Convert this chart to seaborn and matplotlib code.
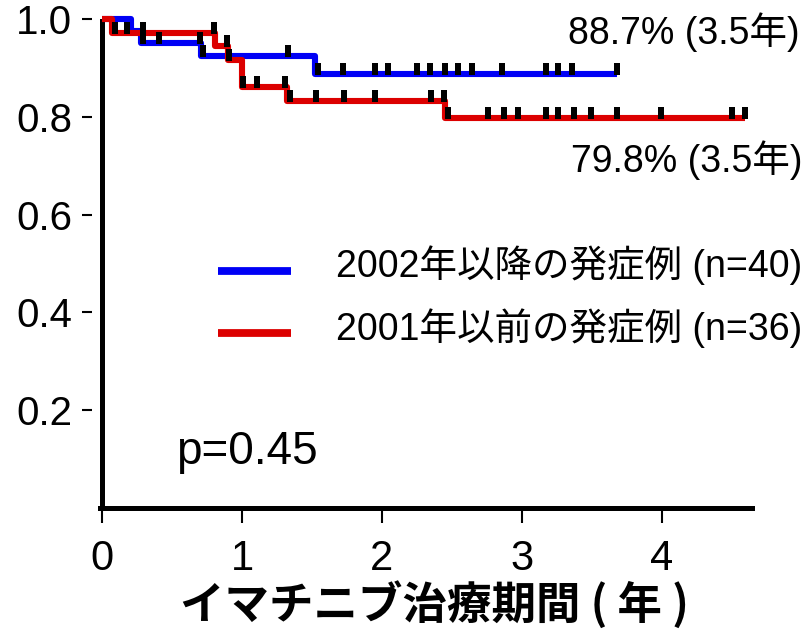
import numpy as np
import pandas as pd
import matplotlib
matplotlib.use("Agg")
import matplotlib.pyplot as plt
from matplotlib.path import Path
from matplotlib.markers import MarkerStyle
from matplotlib.legend_handler import HandlerLine2D
import seaborn as sns

# Kaplan-Meier estimates (time in years, survival as a fraction)
blue_label = "2002年以降の発症例 (n=40)"
blue_event_t = [0.21, 0.28, 0.71, 1.52]
blue_event_s = [0.975, 0.950, 0.925, 0.887]
blue_end_t = 3.68
blue_censor_t = [0.29, 0.41, 0.70, 0.72, 1.33, 1.54, 1.72, 1.95, 2.04, 2.25,
                 2.34, 2.45, 2.54, 2.64, 2.86, 3.17, 3.26, 3.36, 3.68]

red_label = "2001年以前の発症例 (n=36)"
red_event_t = [0.07, 0.81, 0.90, 1.00, 1.32, 2.45]
red_event_s = [0.972, 0.944, 0.917, 0.861, 0.833, 0.798]
red_end_t = 4.59
red_censor_t = [0.09, 0.18, 0.29, 0.80, 0.89, 0.91, 1.01, 1.11, 1.31, 1.34,
                1.53, 1.73, 1.95, 2.35, 2.44, 2.47, 2.76, 2.87, 2.97, 3.17,
                3.26, 3.37, 3.49, 3.68, 3.99, 4.50, 4.59]

p_value = 0.45
x_ticks = [0, 1, 2, 3, 4]
y_ticks = [0.2, 0.4, 0.6, 0.8, 1.0]
y_tick_labels = ["0.2", "0.4", "0.6", "0.8", "1.0"]
x_label = "イマチニブ治療期間 ( 年 )"

BLUE = "#0000f5"
RED = "#dc0000"

sns.set_style("white")
plt.rcParams["font.family"] = ["Liberation Sans", "Noto Sans CJK JP", "DejaVu Sans"]
plt.rcParams["text.color"] = "black"
plt.rcParams["axes.labelcolor"] = "black"
plt.rcParams["xtick.color"] = "black"
plt.rcParams["ytick.color"] = "black"


def km_frame(event_t, event_s, end_t):
    t = [0.0] + list(event_t) + [end_t]
    s = [1.0] + list(event_s) + [event_s[-1]]
    return pd.DataFrame({"t": t, "s": s})


def step_value(frame, times):
    idx = np.searchsorted(frame["t"].to_numpy(), times, side="right") - 1
    return frame["s"].to_numpy()[idx]


class BaselineLine(HandlerLine2D):
    """Legend line drawn near the text baseline instead of its centre."""
    def create_artists(self, legend, orig_handle, xdescent, ydescent,
                       width, height, fontsize, trans):
        return super().create_artists(legend, orig_handle, xdescent,
                                      ydescent + 10, width, height,
                                      fontsize, trans)


blue = km_frame(blue_event_t, blue_event_s, blue_end_t)
red = km_frame(red_event_t, red_event_s, red_end_t)

fig = plt.figure(figsize=(8.03, 6.38), dpi=100)
ax = fig.add_axes([92 / 803, 1 - 508 / 638, (752 - 92) / 803, (508 - 19) / 638])

line_kw = dict(estimator=None, sort=False, drawstyle="steps-post", linewidth=4.4,
               solid_joinstyle="round", solid_capstyle="butt", clip_on=False, ax=ax)
sns.lineplot(data=blue, x="t", y="s", color=BLUE, label=blue_label, zorder=3, **line_kw)
sns.lineplot(data=red, x="t", y="s", color=RED, label=red_label, zorder=4, **line_kw)

# censoring ticks: small solid bars standing on the curve
a, b = 0.23, 0.1
tick_marker = MarkerStyle(Path([(-a, -b), (a, -b), (a, 1.0), (-a, 1.0), (-a, -b)],
                               [Path.MOVETO, Path.LINETO, Path.LINETO,
                                Path.LINETO, Path.CLOSEPOLY]))
for frame, ct in ((blue, blue_censor_t), (red, red_censor_t)):
    ct = np.array(ct)
    ax.plot(ct, step_value(frame, ct), linestyle="none", marker=tick_marker,
            markersize=16.5, markeredgewidth=0, markerfacecolor="black",
            clip_on=False, zorder=6)

xmax = (752 - 102) / 140
ax.set_xlim(-10 / 140, xmax)
ax.set_ylim(0, 1.0)

# axis styling
for side in ("top", "right", "left"):
    ax.spines[side].set_visible(False)
ax.spines["bottom"].set_linewidth(3.6)
ax.spines["bottom"].set_color("black")
ax.spines["bottom"].set_bounds(-0.012, xmax)
ax.axvline(0, ymin=0, ymax=1, color="black", linewidth=3.6, zorder=2,
           solid_capstyle="projecting")

ax.set_xticks(x_ticks)
ax.set_xticklabels([str(v) for v in x_ticks],
                   fontfamily=["Liberation Sans Narrow", "Liberation Sans"],
                   fontsize=30)
ax.set_yticks(y_ticks)
ax.set_yticklabels(y_tick_labels, fontsize=29)
ax.tick_params(axis="y", direction="out", length=7.2, width=1.5, pad=7,
               colors="black", left=True)
ax.tick_params(axis="x", direction="out", length=11, width=1.5, pad=11,
               colors="black", bottom=True)

ax.set_xlabel(x_label, fontsize=32, fontfamily=["Noto Sans CJK JP"],
              fontweight="bold")
ax.xaxis.set_label_coords((434 - 92) / (752 - 92), -0.15)
ax.set_ylabel("")

# end-of-follow-up annotations
ax.text(3.33, 0.973, f"{blue_event_s[-1] * 100:.1f}% (3.5年)", fontsize=27,
        va="center", ha="left")
ax.text(3.35, 0.712, f"{red_event_s[-1] * 100:.1f}% (3.5年)", fontsize=27,
        va="center", ha="left")
ax.text(0.53, 0.114, f"p={p_value}", fontsize=33, va="center", ha="left")

leg = ax.legend(loc="upper left", bbox_to_anchor=(218 / 803, 1 - 245 / 638),
                bbox_transform=fig.transFigure, frameon=False, fontsize=27,
                handlelength=1.95, handletextpad=1.2, labelspacing=0.62,
                borderpad=0, borderaxespad=0,
                handler_map={matplotlib.lines.Line2D: BaselineLine()})
for ln in leg.get_lines():
    ln.set_linewidth(5.6)
    ln.set_solid_capstyle("butt")

fig.savefig("out.png", dpi=100)
